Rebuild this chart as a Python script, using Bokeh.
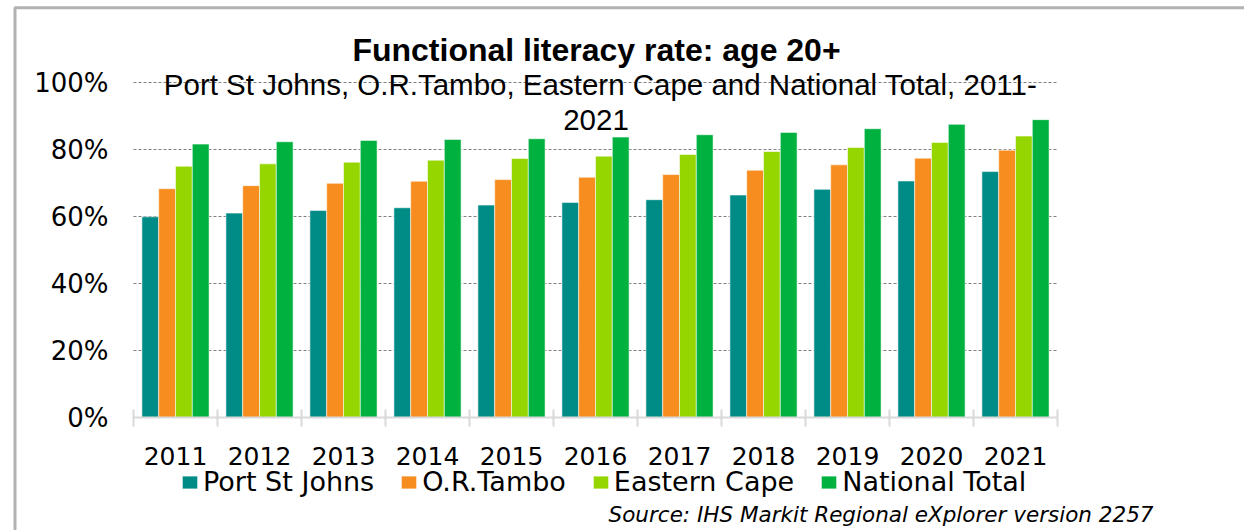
from bokeh.plotting import figure
from bokeh.models import (ColumnDataSource, Range1d, FixedTicker, NumeralTickFormatter,
                          Legend, LegendItem, Label, BoxAnnotation)
from bokeh.embed import file_html
from bokeh.resources import INLINE

# ---- data ----
years = ["2011", "2012", "2013", "2014", "2015", "2016", "2017", "2018", "2019", "2020", "2021"]
port_st_johns = [0.600, 0.611, 0.619, 0.627, 0.635, 0.643, 0.651, 0.665, 0.682, 0.707, 0.735]
or_tambo = [0.684, 0.693, 0.700, 0.706, 0.711, 0.718, 0.726, 0.739, 0.755, 0.775, 0.799]
eastern_cape = [0.751, 0.758, 0.763, 0.769, 0.774, 0.781, 0.786, 0.795, 0.807, 0.822, 0.841]
national_total = [0.817, 0.824, 0.828, 0.831, 0.833, 0.838, 0.845, 0.852, 0.863, 0.876, 0.890]
series_names = ["Port St Johns", "O.R.Tambo", "Eastern Cape", "National Total"]
series_values = [port_st_johns, or_tambo, eastern_cape, national_total]
colors = ["#008C86", "#F78D1E", "#95D600", "#00B140"]
y_ticks = [0.0, 0.2, 0.4, 0.6, 0.8, 1.0]

title_text = "Functional literacy rate: age 20+"
subtitle_line1 = "Port St Johns, O.R.Tambo, Eastern Cape and National Total, 2011-"
subtitle_line2 = "2021"
source_text = "Source: IHS Markit Regional eXplorer version 2257"

n = len(years)
# The frame spans the whole canvas; both axes are drawn at fixed locations
# so that title, legend and source can live inside the frame.
p = figure(width=1244, height=530, output_backend="svg", toolbar_location=None,
           x_range=Range1d(-1.5833, 13.2262), y_range=Range1d(-0.33642, 1.24567),
           min_border_left=0, min_border_right=0, min_border_top=0, min_border_bottom=0)
p.outline_line_color = None
p.background_fill_color = "white"
p.border_fill_color = "white"

# chart border (left and top edges visible, the rest runs off the picture)
p.add_layout(BoxAnnotation(left=-1.4107, top=1.224, right=30, bottom=-5,
                           fill_alpha=0, line_color="black", line_width=3))

bar_w = 0.2
renderers = []
for k, (name, vals, col) in enumerate(zip(series_names, series_values, colors)):
    xs = [i + 0.5 + (k - 1.5) * bar_w for i in range(n)]
    src = ColumnDataSource(dict(x=xs, top=vals))
    r = p.vbar(x="x", top="top", bottom=0, width=bar_w, source=src,
               fill_color=col, line_color="white", line_alpha=0.55, line_width=1)
    renderers.append(r)

# x axis: labels at category centres, ticks at category boundaries
xa = p.xaxis[0]
xa.fixed_location = 0
xa.bounds = (0, n)
xa.ticker = FixedTicker(ticks=[i + 0.5 for i in range(n)], minor_ticks=list(range(n + 1)))
xa.major_label_overrides = {i + 0.5: y for i, y in enumerate(years)}
xa.major_tick_in = 0
xa.major_tick_out = 0
xa.minor_tick_in = 8
xa.minor_tick_out = 9
xa.minor_tick_line_color = "#d9d9d9"
xa.minor_tick_line_width = 2
xa.axis_line_color = "#d9d9d9"
xa.axis_line_width = 2
xa.major_label_standoff = 20
xa.major_label_text_font = "DejaVu Sans"
xa.major_label_text_font_size = "25px"
xa.major_label_text_color = "black"

ya = p.yaxis[0]
ya.fixed_location = 0
ya.bounds = (0, 1)
ya.ticker = FixedTicker(ticks=y_ticks)
ya.formatter = NumeralTickFormatter(format="0%")
ya.axis_line_color = None
ya.major_tick_line_color = None
ya.minor_tick_line_color = None
ya.major_tick_in = 0
ya.major_tick_out = 0
ya.major_label_standoff = 25
ya.major_label_text_font = "DejaVu Sans"
ya.major_label_text_font_size = "26px"
ya.major_label_text_color = "black"

p.xgrid.visible = False
p.ygrid.ticker = FixedTicker(ticks=y_ticks[1:])
p.ygrid.cross_bounds = (0, n)
p.ygrid.grid_line_color = "#808080"
p.ygrid.grid_line_dash = "3 2"
p.ygrid.grid_line_width = 1

legend = Legend(items=[LegendItem(label=nm, renderers=[r]) for nm, r in zip(series_names, renderers)],
                orientation="horizontal", location=(180, 33), padding=0, margin=0, spacing=25,
                label_standoff=4, glyph_width=19, glyph_height=16,
                border_line_color=None, background_fill_alpha=0,
                label_text_font="DejaVu Sans", label_text_font_size="27px",
                label_text_color="black")
p.add_layout(legend)

p.add_layout(Label(x=5.512, y=1.0973, text=title_text, text_font="Liberation Sans",
                   text_font_style="bold", text_font_size="32px", text_align="center",
                   text_baseline="alphabetic", text_color="black"))
p.add_layout(Label(x=5.56, y=0.9949, text=subtitle_line1, text_font="Liberation Sans",
                   text_font_size="29.5px", text_align="center",
                   text_baseline="alphabetic", text_color="black"))
p.add_layout(Label(x=5.506, y=0.8904, text=subtitle_line2, text_font="Liberation Sans",
                   text_font_size="29.5px", text_align="center",
                   text_baseline="alphabetic", text_color="black"))
p.add_layout(Label(x=12.143, y=-0.2875, text=source_text, text_font="DejaVu Sans",
                   text_font_style="italic", text_font_size="21.5px", text_align="right",
                   text_baseline="alphabetic", text_color="black"))

open("out.html", "w").write(file_html(p, INLINE))
